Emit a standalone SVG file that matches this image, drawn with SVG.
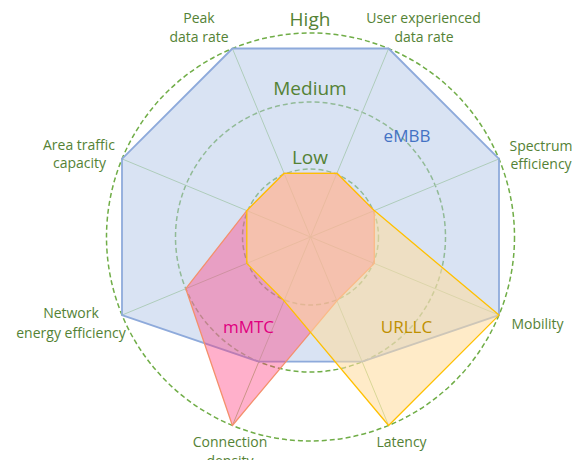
<svg xmlns="http://www.w3.org/2000/svg" width="574" height="460" viewBox="0 0 574 460">
<style>
.lbl{font-family:"Open Sans","Liberation Sans",sans-serif;font-size:14px;fill:#548235;text-anchor:middle}
.lvl{font-family:"Open Sans","Liberation Sans",sans-serif;font-size:19px;fill:#548235;text-anchor:middle}
.ser{font-family:"Open Sans","Liberation Sans",sans-serif;font-size:17px;text-anchor:middle}
.ring{fill:none;stroke:#70AD47;stroke-width:1.5;stroke-dasharray:5 3}
.spoke{stroke:#A9D18E;stroke-width:1}
</style>
<rect width="574" height="460" fill="#FFFFFF"/>
<g id="grid">
<circle class="ring" cx="310.5" cy="237" r="204"/>
<circle class="ring" cx="310.5" cy="237" r="135" stroke="#8CBF70"/>
<circle class="ring" cx="310.5" cy="237" r="68"/>
</g>
<g id="connectors">
<line class="spoke" x1="310.5" y1="237" x2="232.4" y2="48.5"/>
<line class="spoke" x1="310.5" y1="237" x2="388.6" y2="48.5"/>
<line class="spoke" x1="310.5" y1="237" x2="499" y2="158.9"/>
<line class="spoke" x1="310.5" y1="237" x2="499" y2="315.1"/>
<line class="spoke" x1="310.5" y1="237" x2="388.6" y2="425.5"/>
<line class="spoke" x1="310.5" y1="237" x2="232.4" y2="425.5"/>
<line class="spoke" x1="310.5" y1="237" x2="122" y2="315.1"/>
<line class="spoke" x1="310.5" y1="237" x2="122" y2="158.9"/>
</g>
<g id="eMBB">
<polygon points="232.4,48.5 388.6,48.5 499,158.9 499,315.1 362.2,361.7 258.8,361.7 122,315.1 122,158.9" fill="rgb(180,199,231)" fill-opacity="0.5" stroke="#8EAADB" stroke-width="1.8" stroke-linejoin="round"/>
</g>
<g id="mMTC">
<polygon points="284.1,173.3 336.9,173.3 374.3,210.6 374.3,263.4 336.9,300.8 232.4,425.5 185.8,288.7 246.8,210.6" fill="rgb(255,58,125)" fill-opacity="0.4" stroke="#F4906C" stroke-width="1.3" stroke-linejoin="round"/>
</g>
<g id="URLLC">
<polygon points="284.1,173.3 336.9,173.3 374.3,210.6 499,315.1 388.6,425.5 284.1,300.8 246.8,263.4 246.8,210.6" fill="rgb(255,219,157)" fill-opacity="0.56" stroke="#FFC000" stroke-width="1.3" stroke-linejoin="round"/>
</g>
<g id="levels">
<text class="lvl" x="310" y="26" font-size="20">High</text>
<text class="lvl" x="310" y="95">Medium</text>
<text class="lvl" x="310" y="164">Low</text>
</g>
<g id="series-labels">
<text class="ser" x="407" y="142" fill="#4472C4">eMBB</text>
<text class="ser" x="248.5" y="333" fill="#E0007F">mMTC</text>
<text class="ser" x="406.5" y="333" fill="#BF9000">URLLC</text>
</g>
<g id="axis-labels">
<text class="lbl" x="199" y="23">Peak</text>
<text class="lbl" x="199" y="42">data rate</text>
<text class="lbl" x="423.5" y="23">User experienced</text>
<text class="lbl" x="424" y="42">data rate</text>
<text class="lbl" x="541" y="151">Spectrum</text>
<text class="lbl" x="541" y="169">efficiency</text>
<text class="lbl" x="537.5" y="329">Mobility</text>
<text class="lbl" x="401.5" y="447">Latency</text>
<text class="lbl" x="230" y="447">Connection</text>
<text class="lbl" x="230" y="466">density</text>
<text class="lbl" x="71" y="318">Network</text>
<text class="lbl" x="71" y="338">energy efficiency</text>
<text class="lbl" x="79" y="150">Area traffic</text>
<text class="lbl" x="79.5" y="168">capacity</text>
</g>
</svg>
